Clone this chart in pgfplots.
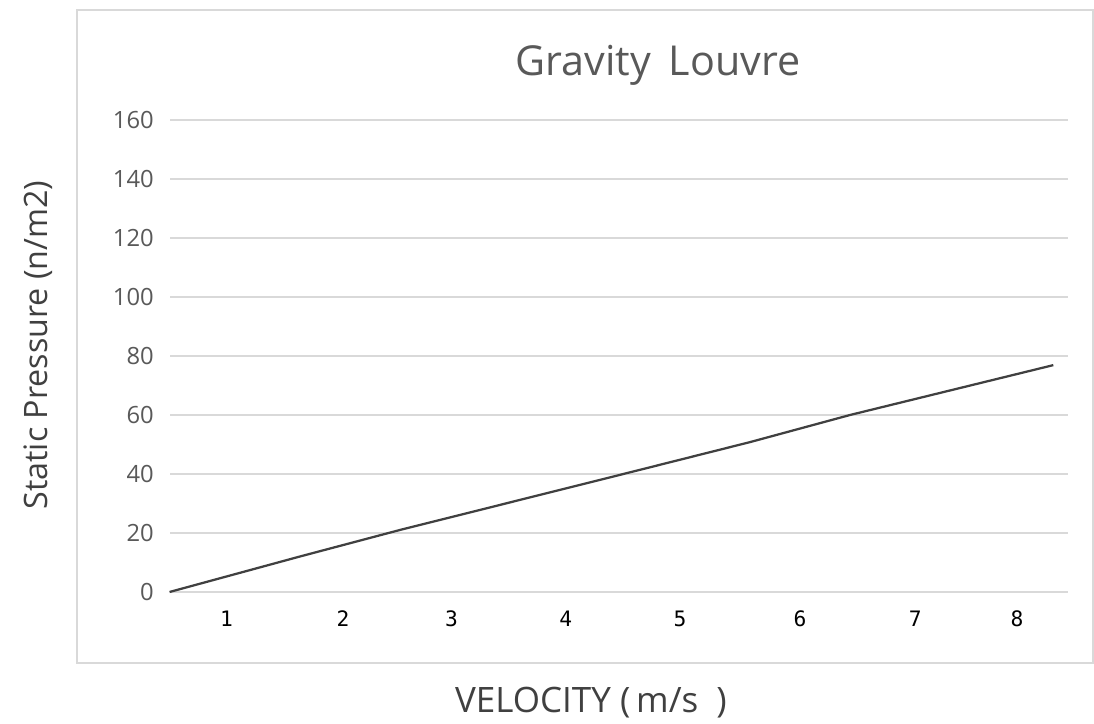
\documentclass[border=0pt]{standalone}
\usepackage{fontspec}
\setmainfont{Open Sans}
\newfontfamily\tickmono{DejaVu Sans Mono}
\usepackage{pgfplots}
\pgfplotsset{compat=1.18}
\definecolor{txtgray}{HTML}{595959}
\definecolor{gridgray}{HTML}{D9D9D9}
\definecolor{linegray}{HTML}{404040}
\begin{document}
\begin{tikzpicture}[x=0.4pt,y=0.4pt]
  % canvas: 1 unit = 1 px of the reference, origin at the plot's (xmin,0)
  \useasboundingbox (-170,-132) rectangle (924,592);
  \fill[white] (-170,-132) rectangle (924,592);
  \draw[gridgray, line width=0.8pt] (-93,-71) rectangle (923,582);
  \begin{axis}[
      at={(0,0)}, anchor=south west,
      scale only axis,
      width=359.2pt, height=188.8pt,
      xmin=0.5, xmax=8.44,
      ymin=0, ymax=160,
      ytick={0,20,...,160},
      xtick={1,2.03,2.99,4,5.01,6.07,7.09,7.99},
      xticklabels={1,2,3,4,5,6,7,8},
      ymajorgrids,
      grid style={gridgray, line width=0.8pt},
      axis line style={draw=none},
      major tick length=0pt,
      yticklabel style={font=\fontsize{9.5}{11}\selectfont, text=txtgray, xshift=-3pt},
      xticklabel style={font=\tickmono\fontsize{8.5}{10}\selectfont, text=black, yshift=-4pt},
      /pgf/number format/assume math mode=true,
      clip=false,
    ]
    \addplot[linegray, line width=0.9pt] coordinates {
      (0.496,0) (1.646,12.0) (2.531,21.0) (3.593,31.2) (4.478,39.7)
      (5.628,50.8) (6.513,60.0) (8.310,76.9)
    };
  \end{axis}
  \node[text=txtgray, font=\fontsize{16.5}{19}\selectfont] at (488,527) {Gravity\, Louvre};
  \node[text=linegray, rotate=90, font=\fontsize{12.9}{15}\selectfont] at (-132,247) {Static Pressure (n/m2)};
  \node[text=linegray, font=\fontsize{14}{16}\selectfont] at (421,-111) {VELOCITY (\,m/s\ \ )};
\end{tikzpicture}
\end{document}
